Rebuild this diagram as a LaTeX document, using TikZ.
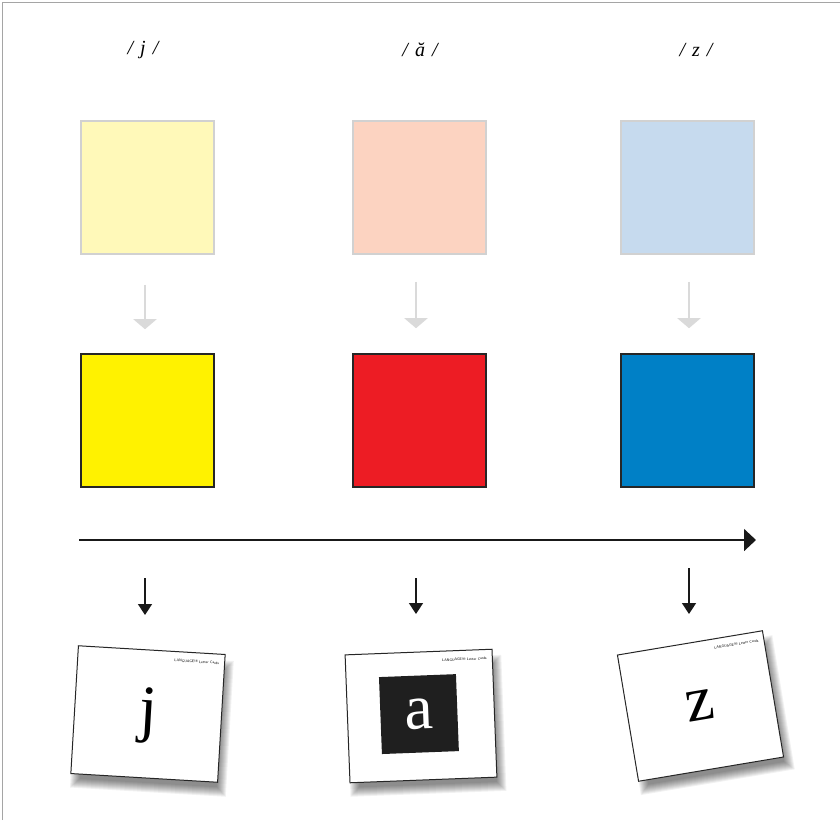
\documentclass[tikz,border=0pt]{standalone}
\usepackage{fontspec}
\newfontfamily\cardfont{Liberation Serif}
\usetikzlibrary{arrows.meta}
\definecolor{paleY}{RGB}{255,249,185}
\definecolor{paleR}{RGB}{252,211,193}
\definecolor{paleB}{RGB}{198,218,238}
\definecolor{brY}{RGB}{255,242,0}
\definecolor{brR}{RGB}{237,28,36}
\definecolor{brB}{RGB}{0,128,198}
\definecolor{frameg}{RGB}{165,165,165}
\definecolor{arrg}{RGB}{218,218,218}
\tikzset{
  pale/.style={draw=black!18, line width=1.6pt, minimum size=133pt, inner sep=0pt},
  bright/.style={draw=black!85, line width=1.6pt, minimum size=133pt, inner sep=0pt},
  phon/.style={font=\cardfont\itshape\fontsize{20}{22}\selectfont, inner sep=0pt},
  grayarrow/.style={draw=arrg, line width=2pt, -{Triangle[width=23pt,length=10pt]}},
  blackarrow/.style={draw=black!90, line width=1.5pt, -{Triangle[width=14pt,length=11pt]}},
  timeline/.style={draw=black!90, line width=1.8pt, -{Triangle[width=22pt,length=12pt]}},
  card/.style={draw=black!85, fill=white, line width=1pt, minimum width=147pt, minimum height=128pt, inner sep=0pt},
  brand/.style={font=\fontsize{3.6}{4}\sffamily, inner sep=0pt, anchor=east},
  bigletter/.style={font=\cardfont\fontsize{64}{66}\selectfont, inner sep=0pt},
}
\newcommand{\cardshadow}{%
  \foreach \s in {-5,...,4}{
    \fill[black, opacity=0.055] (-73.5+4-\s,-64+10-\s) rectangle (73.5+5+\s,64+10+\s);
  }%
}
\begin{document}
\begin{tikzpicture}[x=1pt,y=-1pt]
\useasboundingbox (0,0) rectangle (840,820);
\fill[white] (0,0) rectangle (840,820);
% frame
\draw[frameg, line width=1.5pt] (2.5,820) -- (2.5,2.5) -- (840,2.5);

% phoneme labels
\node[phon] (l1) at (143,50) {/\hspace{7pt}j\hspace{7pt}/};
\node[phon] (l2) at (420,50) {/\hspace{7pt}ă\hspace{7pt}/};
\node[phon] (l3) at (696,50) {/\hspace{7pt}z\hspace{7pt}/};

% pale squares
\node[pale, fill=paleY] (p1) at (147.5,187.5) {};
\node[pale, fill=paleR] (p2) at (419.5,187.5) {};
\node[pale, fill=paleB] (p3) at (687.5,187.5) {};

% bright squares
\node[bright, fill=brY] (b1) at (147.5,420.5) {};
\node[bright, fill=brR] (b2) at (419.5,420.5) {};
\node[bright, fill=brB] (b3) at (687.5,420.5) {};

% gray arrows
\draw[grayarrow] ([xshift=-2.5pt,yshift=-30pt]p1.south) -- ([xshift=-2.5pt,yshift=24pt]b1.north);
\draw[grayarrow] ([xshift=-3.5pt,yshift=-27pt]p2.south) -- ([xshift=-3.5pt,yshift=25pt]b2.north);
\draw[grayarrow] ([xshift=1.5pt,yshift=-27pt]p3.south) -- ([xshift=1.5pt,yshift=25pt]b3.north);

% timeline
\coordinate (t0) at (79,540);
\coordinate (t1) at (756,540);
\draw[timeline] (t0) -- (t1);

% small black arrows
\coordinate (a1s) at (145,578); \coordinate (a1e) at (145,615);
\coordinate (a2s) at (416,578); \coordinate (a2e) at (416,614);
\coordinate (a3s) at (689,568); \coordinate (a3e) at (689,614);
\draw[blackarrow] (a1s) -- (a1e);
\draw[blackarrow] (a2s) -- (a2e);
\draw[blackarrow] (a3s) -- (a3e);

% card 1
\begin{scope}[shift={(148,714)}, rotate=-3.4, transform shape]
  \cardshadow
  \node[card] (card1) at (0,0) {};
  \node[brand] (br1) at (68,-55) {LANGUAGE!\textregistered\ Letter Cards};
  \node[bigletter] (let1) at (0,2) {j};
\end{scope}

% card 2
\begin{scope}[shift={(421,716)}, rotate=2.2, transform shape]
  \cardshadow
  \node[card] (card2) at (0,0) {};
  \node[brand] (br2) at (68,-55) {LANGUAGE!\textregistered\ Letter Cards};
  \node[fill=black!88, minimum size=77pt, inner sep=0pt] (blk2) at (-2,-2) {};
  \node[bigletter, text=white] (let2) at (blk2) {a};
\end{scope}

% card 3
\begin{scope}[shift={(700.5,706)}, rotate=9.5, transform shape]
  \cardshadow
  \node[card] (card3) at (0,0) {};
  \node[brand] (br3) at (68,-55) {LANGUAGE!\textregistered\ Letter Cards};
  \node[bigletter] (let3) at (0,0) {z};
\end{scope}
\end{tikzpicture}
\end{document}
